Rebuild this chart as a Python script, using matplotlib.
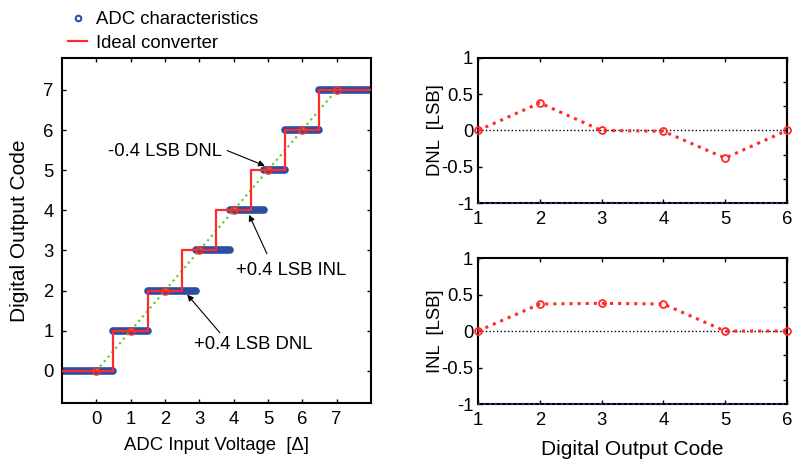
import numpy as np
import matplotlib
matplotlib.use('Agg')
import matplotlib.pyplot as plt
from matplotlib.lines import Line2D

plt.rcParams['font.family'] = ['Liberation Sans', 'DejaVu Sans']

# ADC transfer characteristic (measured transition levels, in LSB)
codes = [0, 1, 2, 3, 4, 5, 6, 7]
adc_transitions = [0.5, 1.5, 2.9, 3.9, 4.9, 5.5, 6.5]
ideal_transitions = [0.5, 1.5, 2.5, 3.5, 4.5, 5.5, 6.5]
x_min, x_max = -1, 8

# DNL / INL per output code
nl_codes = [1, 2, 3, 4, 5, 6]
dnl = [0, 0.38, 0, -0.01, -0.38, 0]
inl = [0, 0.37, 0.38, 0.37, 0, 0]

blue = '#2c4fa3'
red = '#ff2a2a'
green = '#66cc33'
fs = 13.3

fig = plt.figure(figsize=(7.96, 4.59), dpi=100)
ax = fig.add_axes([0.0779, 0.122, 0.388, 0.752])

# blue measured staircase
edges = [x_min] + adc_transitions + [x_max]
for k in codes:
    ax.plot([edges[k], edges[k + 1]], [k, k], color=blue, lw=5.5,
            solid_capstyle='round', zorder=2)

# ideal straight line
ax.plot([codes[0], codes[-1]], [codes[0], codes[-1]], ':', color=green, lw=1.6, zorder=3)

# ideal converter staircase
ix = [x_min] + ideal_transitions + [x_max]
iy = codes + [codes[-1]]
ax.plot(ix, iy, drawstyle='steps-post', color=red, lw=1.6, zorder=4)
ax.plot(codes, codes, 'o', mfc='none', mec=red, ms=5, mew=1.2, zorder=5)

ax.set_xlim(x_min, x_max)
ax.set_ylim(-0.8, 7.8)
ax.set_xticks(codes)
ax.set_yticks(codes)
ax.tick_params(direction='in', top=True, right=True, length=3, width=1,
               labelsize=fs, pad=6)
for s in ax.spines.values():
    s.set_linewidth(1.5)
ax.set_xlabel('ADC Input Voltage  [Δ]', fontsize=fs, labelpad=6)
ax.set_ylabel('Digital Output Code', fontsize=15, labelpad=10)

arrow = dict(arrowstyle='-|>', color='black', lw=0.8, mutation_scale=9,
             shrinkA=0, shrinkB=0)
ax.annotate('', xy=(4.91, 5.11), xytext=(3.81, 5.49), arrowprops=arrow)
ax.text(3.66, 5.46, '-0.4 LSB DNL', ha='right', va='center', fontsize=fs)
ax.annotate('', xy=(4.45, 3.89), xytext=(4.97, 2.92), arrowprops=arrow)
ax.text(4.07, 2.49, '+0.4 LSB INL', ha='left', va='center', fontsize=fs)
ax.annotate('', xy=(2.65, 1.9), xytext=(3.6, 0.95), arrowprops=arrow)
ax.text(2.85, 0.67, '+0.4 LSB DNL', ha='left', va='center', fontsize=fs)

handles = [Line2D([], [], ls='none', marker='o', mfc='none', mec=blue, ms=4, mew=1.5),
           Line2D([], [], color=red, lw=1.6)]
fig.legend(handles, ['ADC characteristics', 'Ideal converter'],
           loc='upper left', bbox_to_anchor=(0.072, 1.0), frameon=False,
           fontsize=fs, handlelength=1.0, handletextpad=0.5,
           borderpad=0.1, labelspacing=0.35)


def nl_panel(rect, values, label):
    a = fig.add_axes(rect)
    a.plot([nl_codes[0], nl_codes[-1]], [0, 0], ':', color='black', lw=1, zorder=2)
    a.plot([nl_codes[0], nl_codes[-1]], [-1, -1], ':', color='#1f3a8a', lw=1.5,
           zorder=4, clip_on=False)
    a.plot(nl_codes, values, ':', color=red, lw=2.2, marker='o', mfc='none',
           mec=red, ms=5, mew=1.3, zorder=3, clip_on=False)
    a.set_xlim(nl_codes[0], nl_codes[-1])
    a.set_ylim(-1, 1)
    a.set_xticks(nl_codes)
    a.set_yticks([-1, -0.5, 0, 0.5, 1])
    a.set_yticklabels(['-1', '-0.5', '0', '0.5', '1'])
    a.tick_params(direction='in', top=True, length=3, width=1,
                  labelsize=fs, pad=6)
    a.tick_params(axis='y', pad=3.5)
    for s in a.spines.values():
        s.set_linewidth(1.5)
    sec = a.secondary_yaxis('right')
    sec.set_yticks([-2 / 3, -1 / 3, 0, 1 / 3, 2 / 3])
    sec.set_yticklabels([])
    sec.tick_params(direction='in', length=3, width=1)
    sec.spines['right'].set_linewidth(1.5)
    a.set_ylabel(label, fontsize=fs, labelpad=-2)
    return a


ax_dnl = nl_panel([0.6005, 0.5577, 0.388, 0.316], dnl, 'DNL  [LSB]')
ax_inl = nl_panel([0.6005, 0.1198, 0.388, 0.318], inl, 'INL  [LSB]')
ax_inl.set_xlabel('Digital Output Code', fontsize=15, labelpad=8)

fig.savefig('out.png', dpi=100)
